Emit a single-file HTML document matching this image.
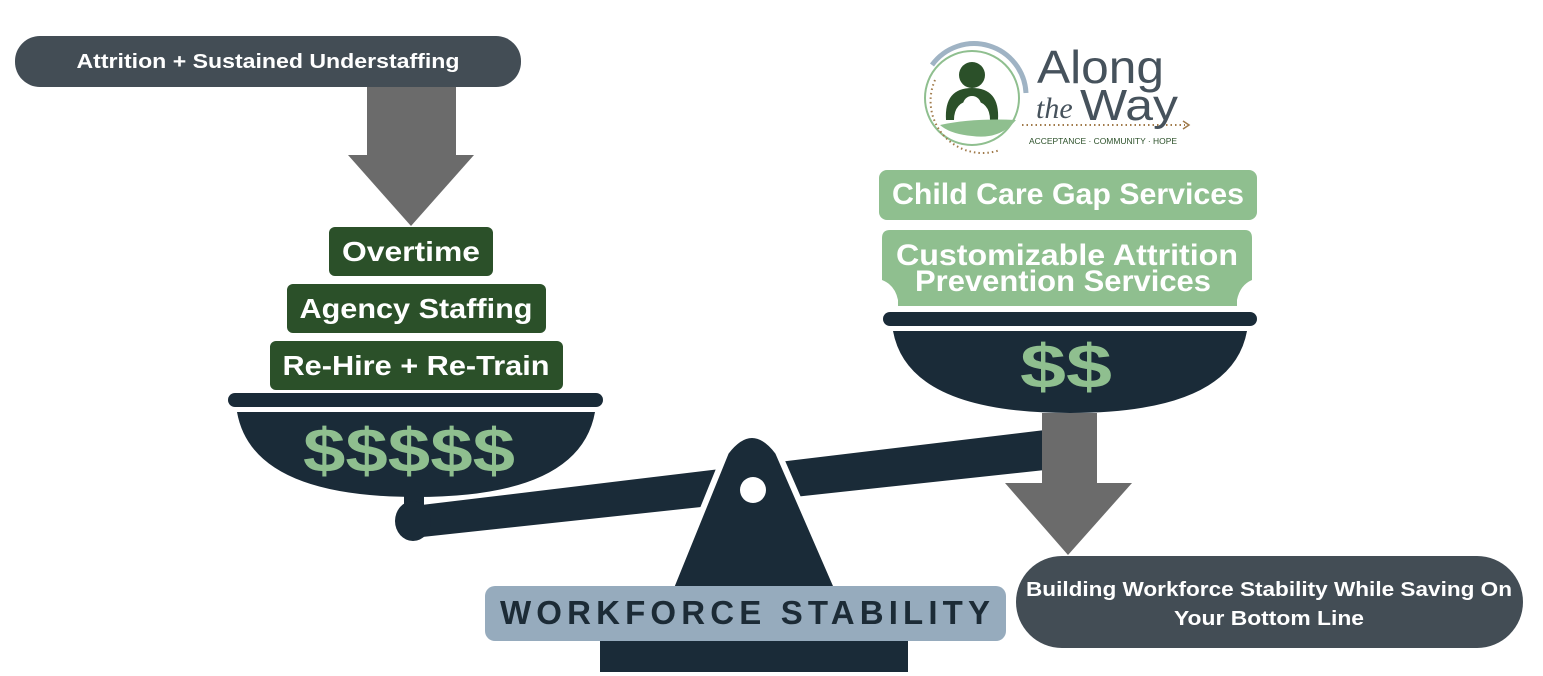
<!DOCTYPE html>
<html><head><meta charset="utf-8"><style>
html,body{margin:0;padding:0;background:#fff;}
svg{display:block;}
text{font-family:"Liberation Sans",sans-serif;font-weight:bold;}
</style></head><body>
<svg width="1543" height="676" viewBox="0 0 1543 676" xmlns="http://www.w3.org/2000/svg">
<rect width="1543" height="676" fill="#fff"/>
<rect x="15" y="36" width="506" height="51" rx="25" fill="#434d55"/>
<text x="268" y="68" fill="#fff" font-size="20" text-anchor="middle" textLength="383" lengthAdjust="spacingAndGlyphs">Attrition + Sustained Understaffing</text>
<rect x="367" y="87" width="89" height="70" fill="#6b6b6b"/>
<polygon points="348,155 474,155 411,226" fill="#6b6b6b"/>
<rect x="329" y="227" width="164" height="49" rx="6" fill="#2b5029"/>
<text x="411" y="261" fill="#fff" font-size="28" text-anchor="middle" textLength="138" lengthAdjust="spacingAndGlyphs">Overtime</text>
<rect x="287" y="284" width="259" height="49" rx="6" fill="#2b5029"/>
<text x="416" y="318" fill="#fff" font-size="28" text-anchor="middle" textLength="233" lengthAdjust="spacingAndGlyphs">Agency Staffing</text>
<rect x="270" y="341" width="293" height="49" rx="6" fill="#2b5029"/>
<text x="416" y="375" fill="#fff" font-size="28" text-anchor="middle" textLength="267" lengthAdjust="spacingAndGlyphs">Re-Hire + Re-Train</text>
<rect x="228" y="393" width="375" height="14" rx="7" fill="#1a2b38"/>
<path d="M237,412 L595,412 Q580,497 416,497 Q252,497 237,412 Z" fill="#1a2b38"/>
<text x="409" y="472" fill="#8fbf8f" font-size="62" text-anchor="middle" textLength="212" lengthAdjust="spacingAndGlyphs">$$$$$</text>
<rect x="404" y="494" width="20" height="16" fill="#1a2b38"/>
<polygon points="413,506 1045,430 1045,470 413,538" fill="#1a2b38"/>
<ellipse cx="413" cy="521" rx="18" ry="20" fill="#1a2b38"/>
<path d="M670,590 L726,452 Q752,418 778,452 L838,590 Z" fill="#1a2b38" stroke="#fff" stroke-width="6"/>
<circle cx="753" cy="490" r="13" fill="#fff"/>
<rect x="600" y="638" width="308" height="34" fill="#1a2b38"/>
<rect x="485" y="586" width="521" height="55" rx="10" fill="#96abbd"/>
<text x="745" y="624" fill="#1c2b36" font-size="33" text-anchor="middle" textLength="490" lengthAdjust="spacing">WORKFORCE STABILITY</text>
<rect x="879" y="170" width="378" height="50" rx="8" fill="#8fbf8f"/>
<text x="1068" y="204" fill="#fff" font-size="30" text-anchor="middle" textLength="352" lengthAdjust="spacingAndGlyphs">Child Care Gap Services</text>
<path d="M890,230 L1245,230 Q1252,230 1252,238 L1252,280 Q1240,285 1237,300 L1237,306 L898,306 L898,300 Q895,285 882,280 L882,238 Q882,230 890,230 Z" fill="#8fbf8f"/>
<text x="1067" y="265" fill="#fff" font-size="30" text-anchor="middle" textLength="342" lengthAdjust="spacingAndGlyphs">Customizable Attrition</text>
<text x="1063" y="291" fill="#fff" font-size="30" text-anchor="middle" textLength="296" lengthAdjust="spacingAndGlyphs">Prevention Services</text>
<rect x="883" y="312" width="374" height="14" rx="7" fill="#1a2b38"/>
<path d="M893,331 L1247,331 Q1232,413 1070,413 Q908,413 893,331 Z" fill="#1a2b38"/>
<text x="1066" y="388" fill="#8fbf8f" font-size="62" text-anchor="middle" textLength="92" lengthAdjust="spacingAndGlyphs">$$</text>
<rect x="1042" y="413" width="55" height="72" fill="#6b6b6b"/>
<polygon points="1005,483 1132,483 1068,555" fill="#6b6b6b"/>
<rect x="1016" y="556" width="507" height="92" rx="46" fill="#434d55"/>
<text x="1269" y="596" fill="#fff" font-size="20" text-anchor="middle" textLength="486" lengthAdjust="spacingAndGlyphs">Building Workforce Stability While Saving On</text>
<text x="1269" y="625" fill="#fff" font-size="20" text-anchor="middle" textLength="190" lengthAdjust="spacingAndGlyphs">Your Bottom Line</text>
<path d="M932,65 A52,52 0 0 1 1026,93" fill="none" stroke="#9fb3c4" stroke-width="5"/>
<circle cx="972" cy="98" r="47" fill="none" stroke="#8fbf8f" stroke-width="2"/>
<path d="M935,80 A52,52 0 0 0 1000,150" fill="none" stroke="#a07a4a" stroke-width="2" stroke-dasharray="1.5,3"/>
<circle cx="972" cy="75" r="13" fill="#2b5029"/>
<path d="M946,120 Q944,88 972,88 Q1000,88 998,120 L990,120 Q990,102 972,100 Q954,102 954,120 Z" fill="#2b5029"/>
<circle cx="972" cy="105" r="9" fill="#fff"/>
<path d="M940,125 Q972,118 1016,120 Q1000,140 972,136 Q950,134 940,125 Z" fill="#8fbf8f"/>
<line x1="1022" y1="125" x2="1185" y2="125" stroke="#a07a4a" stroke-width="2" stroke-dasharray="1.5,3"/>
<polyline points="1183,121 1189,125 1183,129" fill="none" stroke="#a07a4a" stroke-width="1.5"/>
<text x="1037" y="83" fill="#46525c" font-size="46" style="font-weight:normal" textLength="127" lengthAdjust="spacingAndGlyphs">Along</text>
<text x="1036" y="118" fill="#46525c" font-size="30" font-style="italic" style="font-weight:normal;font-family:'Liberation Serif',serif">the</text>
<text x="1080" y="120" fill="#46525c" font-size="44" style="font-weight:normal" textLength="98" lengthAdjust="spacingAndGlyphs">Way</text>
<text x="1103" y="144" fill="#2b5029" font-size="8" style="font-weight:normal" text-anchor="middle" textLength="148" lengthAdjust="spacingAndGlyphs">ACCEPTANCE · COMMUNITY · HOPE</text>
</svg>
</body></html>
